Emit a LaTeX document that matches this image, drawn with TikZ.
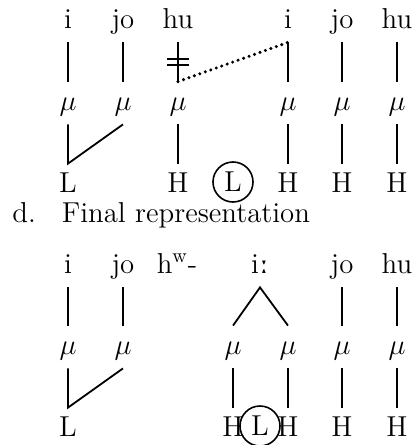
\documentclass[tikz,border=0pt]{standalone}
\usepackage{fontspec}
\newfontfamily\ipafont{DejaVu Serif}
\begin{document}
\begin{tikzpicture}[x=0.5pt,y=-0.5pt,
  font=\fontsize{14.4}{17}\selectfont,
  every node/.style={inner sep=0pt, anchor=base},
  syl/.style={text depth=7pt},
  mora/.style={text height=14pt, text depth=7pt},
  tone/.style={text height=14pt},
  circled/.style={draw, circle, minimum size=20pt, inner sep=0pt, anchor=center, line width=0.8pt},
  assoc/.style={line width=0.9pt},
  delink/.style={line width=0.8pt},
  spread/.style={line width=1.7pt, dash pattern=on 0pt off 2.9pt, line cap=round}]
\useasboundingbox (0,0) rectangle (417,445);
% ---------- upper panel ----------
\node[syl] (s1) at (68,28) {i};
\node[syl] (s2) at (123,28) {jo};
\node[syl] (s3) at (178,28) {hu};
\node[syl] (s4) at (288,28) {i};
\node[syl] (s5) at (342,28) {jo};
\node[syl] (s6) at (397,28) {hu};
\foreach \n/\x in {1/68,2/123,3/178,4/288,5/342,6/397}
  \node[mora] (m\n) at (\x,110) {$\mu$};
\node[tone] (t1) at (68,192) {L};
\node[tone] (t3) at (178,192) {H};
\node[tone] (t4) at (288,192) {H};
\node[tone] (t5) at (342,192) {H};
\node[tone] (t6) at (397,192) {H};
\node[circled] (lc1) at (233,182) {L};
\draw[assoc] (s1.south) -- (m1.north);
\draw[assoc] (s2.south) -- (m2.north);
\draw[assoc] (s3.south) -- (m3.north) coordinate[pos=0.42] (x1) coordinate[pos=0.58] (x2);
\draw[delink] ([xshift=-5.5pt]x1) -- ([xshift=5.5pt]x1);
\draw[delink] ([xshift=-5.5pt]x2) -- ([xshift=5.5pt]x2);
\draw[assoc] (s4.south) -- (m4.north);
\draw[assoc] (s5.south) -- (m5.north);
\draw[assoc] (s6.south) -- (m6.north);
\draw[spread] (m3.north) -- (s4.south);
\draw[assoc] (m1.south) -- (t1.north) -- (m2.south);
\draw[assoc] (m3.south) -- (t3.north);
\draw[assoc] (m4.south) -- (t4.north);
\draw[assoc] (m5.south) -- (t5.north);
\draw[assoc] (m6.south) -- (t6.north);
% ---------- caption ----------
\node[anchor=base west] (cap) at (12,222) {d.\hspace{13pt}Final representation};
% ---------- lower panel ----------
\node[syl] (b1) at (68,273) {i};
\node[syl] (b2) at (123,273) {jo};
\node[syl] (b3) at (177,273) {h$^{\mathrm{w}}$-};
\node[syl] (b4) at (260,273) {i{\ipafont ː}};
\node[syl] (b5) at (342,273) {jo};
\node[syl] (b6) at (397,273) {hu};
\node[mora] (n1) at (68,354) {$\mu$};
\node[mora] (n2) at (123,354) {$\mu$};
\node[mora] (n3) at (233,354) {$\mu$};
\node[mora] (n4) at (288,354) {$\mu$};
\node[mora] (n5) at (342,354) {$\mu$};
\node[mora] (n6) at (397,354) {$\mu$};
\node[tone] (u1) at (68,436) {L};
\node[tone] (u3) at (233,436) {H};
\node[tone] (u4) at (288,436) {H};
\node[tone] (u5) at (342,436) {H};
\node[tone] (u6) at (397,436) {H};
\node[circled] (lc2) at (260,426) {L};
\draw[assoc] (b1.south) -- (n1.north);
\draw[assoc] (b2.south) -- (n2.north);
\draw[assoc] (n3.north) -- (b4.south) -- (n4.north);
\draw[assoc] (b5.south) -- (n5.north);
\draw[assoc] (b6.south) -- (n6.north);
\draw[assoc] (n1.south) -- (u1.north) -- (n2.south);
\draw[assoc] (n3.south) -- (u3.north);
\draw[assoc] (n4.south) -- (u4.north);
\draw[assoc] (n5.south) -- (u5.north);
\draw[assoc] (n6.south) -- (u6.north);
\end{tikzpicture}
\end{document}
